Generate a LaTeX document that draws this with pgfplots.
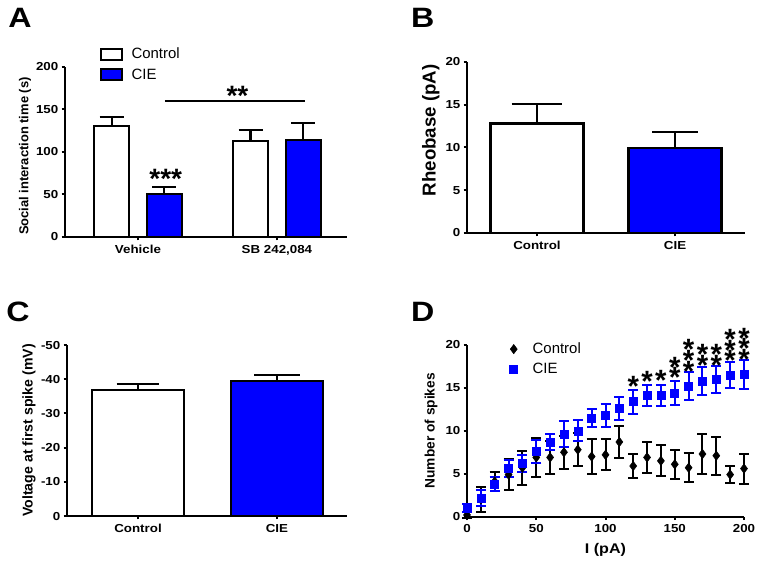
\documentclass[border=0pt]{standalone}
\usepackage{pgfplots}
\pgfplotsset{compat=1.18}
\usepackage{fontspec}
\setmainfont{Liberation Sans}
\newfontfamily\widefont[FakeStretch=1.15]{Liberation Sans}
\definecolor{cieblue}{RGB}{0,0,255}

\pgfplotstableread{
x y e
0 0.2 0.3
10 2.0 1.4
20 4.1 1.1
30 4.9 1.8
40 5.7 2.0
50 6.9 2.3
60 6.9 1.9
70 7.5 1.9
80 7.8 1.9
90 7.0 2.0
100 7.2 1.8
110 8.7 1.9
120 5.9 1.35
130 6.9 1.85
140 6.5 1.8
150 6.1 1.7
160 5.7 1.7
170 7.3 2.3
180 7.1 2.2
190 4.9 1.0
200 5.6 1.75
}\ctrlD
\pgfplotstableread{
x y e
0 1.0 0.5
10 2.2 0.9
20 3.8 0.8
30 5.6 1.0
40 6.2 1.0
50 7.6 1.3
60 8.7 0.9
70 9.6 1.5
80 10.0 1.2
90 11.5 1.0
100 11.8 1.3
110 12.6 1.3
120 13.4 1.4
130 14.1 1.2
140 14.1 1.2
150 14.4 1.4
160 15.2 1.6
170 15.8 1.6
180 16.0 1.6
190 16.5 1.5
200 16.6 1.7
}\cieD

\pgfplotsset{
 gp/.style={
  scale only axis,
  anchor=south west,
  axis lines*=left,
  axis line style={line width=1.5pt},
  every tick/.style={line width=1.5pt, black},
  major tick length=2.6pt,
  tick align=outside,
  tick label style={font=\widefont\fontsize{8.7}{10}\selectfont\bfseries, inner sep=0.6pt},
  yticklabel style={xshift=-1.6pt},
  xticklabel style={yshift=-2.6pt},
  /pgf/number format/assume math mode=true,
  clip=false,
 },
 barerr/.style={error bars/.cd, y dir=plus, y explicit,
   error bar style={line width=1.6pt, black},
   error mark options={rotate=90, line width=1.6pt, black, mark size=#1}},
 boxleg/.style={legend image code/.code={\draw[##1, line width=1.4pt] (0pt,-4.1pt) rectangle (15.75pt,4.1pt); \path (20pt,0pt);}},
 markleg/.style={legend image code/.code={\draw[##1] plot coordinates {(0pt,0pt)}; \path (-3.5pt,0pt) (12pt,0pt);}},
}
\tikzset{
 star/.style={font=\fontsize{22}{22}\selectfont\bfseries, inner sep=0pt, anchor=base, yshift=-12.9pt},
 bstar/.style={font=\fontsize{21}{21}\selectfont\bfseries, inner sep=0pt, anchor=base, yshift=-12.3pt},
}
\newcommand{\twost}{\vbox{\baselineskip=8pt\lineskiplimit=-100pt\lineskip=0pt\hbox{*}\hbox{*}}}
\newcommand{\threest}{\vbox{\baselineskip=8pt\lineskiplimit=-100pt\lineskip=0pt\hbox{*}\hbox{*}\hbox{*}}}

\begin{document}
\begin{tikzpicture}
\path[use as bounding box] (0,0) rectangle (571.5pt,423pt);

% Panel letters
\node[font=\widefont\fontsize{21}{21}\selectfont\bfseries] at (15pt,409.5pt) {A};
\node[font=\widefont\fontsize{21}{21}\selectfont\bfseries] at (317pt,409.5pt) {B};
\node[font=\widefont\fontsize{21}{21}\selectfont\bfseries] at (13.5pt,189pt) {C};
\node[font=\widefont\fontsize{21}{21}\selectfont\bfseries] at (317pt,189pt) {D};

% ---------- A ----------
\begin{axis}[gp, at={(48.75pt,245.25pt)}, width=211.5pt, height=127.5pt,
  xmin=-0.525, xmax=1.504, ymin=0, ymax=200, ytick={0,50,100,150,200},
  xtick={0,1}, xticklabels={Vehicle,{SB 242,084}},
  ylabel={Social interaction time (s)},
  ylabel style={font=\fontsize{9.7}{11}\selectfont\bfseries, at={(axis description cs:-0.142,0.476)}, anchor=center},
  ybar, bar width=26pt,
  legend style={draw=none, fill=none, at={(axis description cs:0.124,1.13)}, anchor=north west,
    font=\fontsize{11.2}{13}\selectfont, inner sep=0pt, row sep=2pt, legend cell align=left},
]
\addplot[fill=white, draw=black, line width=1.6pt, bar shift=-19.8pt, boxleg, barerr=9pt]
  coordinates {(0,131) +- (0,10) (1,113) +- (0,13)};
\addlegendentry{Control}
\addplot[fill=cieblue, draw=black, line width=1.6pt, bar shift=19.8pt, boxleg, barerr=9pt]
  coordinates {(0,51) +- (0,8) (1,114) +- (0,20)};
\addlegendentry{CIE}
\draw[line width=1.25pt] (axis cs:0.194,160) -- (axis cs:1.20,160);
\node[bstar] at (axis cs:0.716,174) {**};
\node[bstar] at (axis cs:0.20,76) {***};
\end{axis}

% ---------- B ----------
\begin{axis}[gp, at={(350.25pt,248.25pt)}, width=208.5pt, height=128.25pt,
  xmin=-0.507, xmax=1.507, ymin=0, ymax=20, ytick={0,5,10,15,20},
  xtick={0,1}, xticklabels={Control,CIE},
  ylabel={Rheobase (pA)},
  ylabel style={font=\fontsize{14}{16}\selectfont\bfseries, at={(axis description cs:-0.13,0.60)}, anchor=center},
  ybar, bar width=69.75pt,
]
\addplot[fill=white, draw=black, line width=1.6pt, bar shift=0pt, barerr=19pt]
  coordinates {(0,12.8) +- (0,2.3)};
\addplot[fill=cieblue, draw=black, line width=1.6pt, bar shift=0pt, barerr=17pt]
  coordinates {(1,9.9) +- (0,1.9)};
\end{axis}

% ---------- C ----------
\begin{axis}[gp, at={(50.25pt,36pt)}, width=210pt, height=128.25pt,
  y dir=reverse,
  xmin=-0.511, xmax=1.504, ymin=-50, ymax=0,
  ytick={-50,-40,-30,-20,-10,0}, yticklabels={-50,-40,-30,-20,-10,0},
  xtick={0,1}, xticklabels={Control,CIE},
  ylabel={Voltage at first spike (mV)},
  ylabel style={font=\fontsize{10.6}{12}\selectfont\bfseries, at={(axis description cs:-0.136,0.5)}, anchor=center},
  ybar, bar width=69pt,
]
\addplot[fill=white, draw=black, line width=1.6pt, bar shift=0pt,
  error bars/.cd, y dir=minus, y explicit,
   error bar style={line width=1.6pt, black},
   error mark options={rotate=90, line width=1.6pt, black, mark size=16pt}]
  coordinates {(0,-36.8) +- (0,1.7)};
\addplot[fill=cieblue, draw=black, line width=1.6pt, bar shift=0pt,
  error bars/.cd, y dir=minus, y explicit,
   error bar style={line width=1.6pt, black},
   error mark options={rotate=90, line width=1.6pt, black, mark size=17pt}]
  coordinates {(1,-39.5) +- (0,1.7)};
\end{axis}

% ---------- D ----------
\begin{axis}[gp, at={(350.25pt,35.5pt)}, width=207.75pt, height=128.8pt,
  xmin=0, xmax=200, ymin=0, ymax=20,
  xtick={0,50,100,150,200}, ytick={0,5,10,15,20},
  xlabel={I (pA)},
  xlabel style={font=\widefont\fontsize{10.5}{12}\selectfont\bfseries, at={(axis description cs:0.5,-0.195)}, anchor=center},
  ylabel={Number of spikes},
  ylabel style={font=\fontsize{10.3}{12}\selectfont\bfseries, at={(axis description cs:-0.13,0.5)}, anchor=center},
  legend style={draw=none, fill=none, at={(axis description cs:0.15,1.03)}, anchor=north west,
    font=\fontsize{11.2}{13}\selectfont, inner sep=0pt, row sep=2pt, legend cell align=left},
]
\addplot[only marks, mark=diamond*, mark size=3.5pt, black, markleg,
  error bars/.cd, y dir=both, y explicit,
  error bar style={line width=1.5pt, black},
  error mark options={rotate=90, line width=1.5pt, black, mark size=3.75pt}]
  table[x=x, y=y, y error=e] {\ctrlD};
\addlegendentry{Control}
\addplot[only marks, mark=square*, mark size=3pt, cieblue, markleg,
  error bars/.cd, y dir=both, y explicit,
  error bar style={line width=1.5pt, cieblue},
  error mark options={rotate=90, line width=1.5pt, cieblue, mark size=3.75pt}]
  table[x=x, y=y, y error=e] {\cieD};
\addlegendentry{CIE}
\node[star] at (axis cs:120,16.0) {*};
\node[star] at (axis cs:130,16.6) {*};
\node[star] at (axis cs:140,16.7) {*};
\node[star] at (axis cs:150,17.0) {\twost};
\node[star] at (axis cs:160,17.8) {\threest};
\node[star] at (axis cs:170,18.45) {\twost};
\node[star] at (axis cs:180,18.45) {\twost};
\node[star] at (axis cs:190,19.0) {\threest};
\node[star] at (axis cs:200,19.15) {\threest};
\end{axis}
\end{tikzpicture}
\end{document}
